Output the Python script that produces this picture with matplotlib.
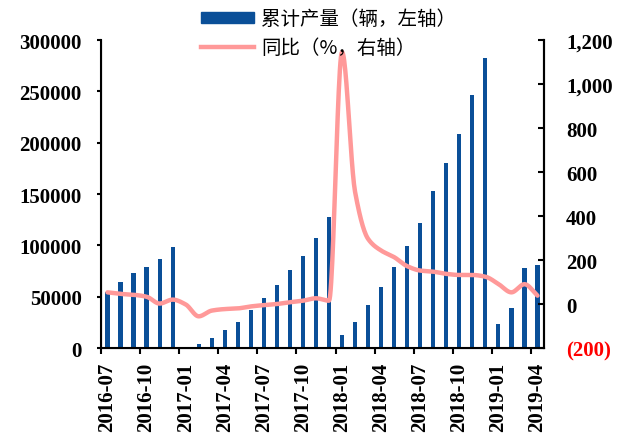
import matplotlib
matplotlib.use("Agg")
import matplotlib.pyplot as plt
import numpy as np
from matplotlib.patches import Patch
from matplotlib.lines import Line2D

months = ["2016-07", "2016-08", "2016-09", "2016-10", "2016-11", "2016-12",
          "2017-01", "2017-02", "2017-03", "2017-04", "2017-05", "2017-06",
          "2017-07", "2017-08", "2017-09", "2017-10", "2017-11", "2017-12",
          "2018-01", "2018-02", "2018-03", "2018-04", "2018-05", "2018-06",
          "2018-07", "2018-08", "2018-09", "2018-10", "2018-11", "2018-12",
          "2019-01", "2019-02", "2019-03", "2019-04"]
# cumulative output (vehicles), left axis
output = [55000, 64000, 72700, 78900, 86700, 98700,
          0, 3900, 10000, 17500, 25000, 37000,
          49000, 61700, 76000, 89600, 107100, 127900,
          13000, 25000, 41900, 59100, 78900, 99700,
          122100, 152900, 179900, 208400, 246400, 282800,
          23700, 39000, 77900, 80800]
# year on year (%), right axis
yoy = [53, 46, 42, 33, 2, 20,
       -2, -56, -30, -23, -20, -11,
       -5, 0, 8, 15, 26, 15,
       1145, 510, 296, 243, 213, 172,
       152, 147, 137, 132, 132, 124,
       91, 53, 90, 38]

label_bar = "累计产量（辆，左轴）"
label_line = "同比（%，右轴）"


def smooth(xs, ys, n=24):
    # monotone cubic (fritsch-carlson) through the points, no overshoot
    xs = np.asarray(xs, float)
    ys = np.asarray(ys, float)
    h = np.diff(xs)
    d = np.diff(ys) / h
    m = np.zeros_like(ys)
    m[0], m[-1] = d[0], d[-1]
    for i in range(1, len(ys) - 1):
        if d[i - 1] * d[i] > 0:
            w1 = 2 * h[i] + h[i - 1]
            w2 = h[i] + 2 * h[i - 1]
            m[i] = (w1 + w2) / (w1 / d[i - 1] + w2 / d[i])
    t = np.linspace(0, 1, n, endpoint=False)
    ox, oy = [], []
    for i in range(len(ys) - 1):
        h00 = 2 * t ** 3 - 3 * t ** 2 + 1
        h10 = t ** 3 - 2 * t ** 2 + t
        h01 = -2 * t ** 3 + 3 * t ** 2
        h11 = t ** 3 - t ** 2
        ox.extend(xs[i] + t * h[i])
        oy.extend(h00 * ys[i] + h10 * h[i] * m[i] + h01 * ys[i + 1] + h11 * h[i] * m[i + 1])
    ox.append(xs[-1])
    oy.append(ys[-1])
    return ox, oy


num_font = {"family": "Liberation Serif", "weight": "bold", "size": 15}
blue = "#0a4f98"
pink = "#ff9999"

fig = plt.figure(figsize=(6.21, 4.39), dpi=100)
ax = fig.add_axes([0.1626, 0.205, 0.7134, 0.7016])
x = np.arange(len(months))
ax.bar(x, output, width=0.32, color=blue, zorder=2)
ax.set_xlim(-0.5, len(months) - 0.5)
ax.set_ylim(0, 300000)
ax.set_yticks(np.arange(0, 300001, 50000))
ax.set_yticklabels([str(v) for v in range(0, 300001, 50000)], fontdict=num_font)
ax.set_xticks(x[::3])
ax.set_xticklabels(months[::3], rotation=90, fontdict=num_font)
ax.set_xticks(np.arange(-0.5, len(months) - 0.5, 3), minor=True)
ax.tick_params(axis="x", which="major", length=0, pad=10)
ax.tick_params(axis="x", which="minor", length=4, width=1.5, direction="out")
ax.tick_params(axis="y", length=3, width=1.5, direction="out", pad=11)
for s in ("left", "bottom", "right"):
    ax.spines[s].set_linewidth(1.5)
ax.spines["top"].set_visible(False)

ax2 = ax.twinx()
sx, sy = smooth(x, yoy)
ax2.plot(sx, sy, color=pink, lw=3.2, solid_capstyle="round", zorder=3)
ax2.set_ylim(-200, 1200)
rt = np.arange(-200, 1201, 200)
ax2.set_yticks(rt)
ax2.set_yticklabels(["({:,})".format(-v) if v < 0 else "{:,}".format(v) for v in rt], fontdict=num_font)
ax2.get_yticklabels()[0].set_color("red")
ax2.tick_params(axis="y", length=4, width=1.5, direction="in", pad=16)
ax2.spines["top"].set_visible(False)
ax2.spines["right"].set_linewidth(1.5)

handles = [Patch(color=blue), Line2D([0], [0], color=pink, lw=3.2)]
leg = ax2.legend(handles, [label_bar, label_line], loc="upper left",
                 bbox_to_anchor=(201 / 621, 1 - 9 / 439), bbox_transform=fig.transFigure,
                 frameon=False, handlelength=2.75, handleheight=0.5, handletextpad=0.35,
                 labelspacing=0.4, borderaxespad=0, borderpad=0,
                 prop={"family": ["Noto Sans CJK SC", "DejaVu Sans"], "size": 14})

fig.savefig("out.png", dpi=100)
